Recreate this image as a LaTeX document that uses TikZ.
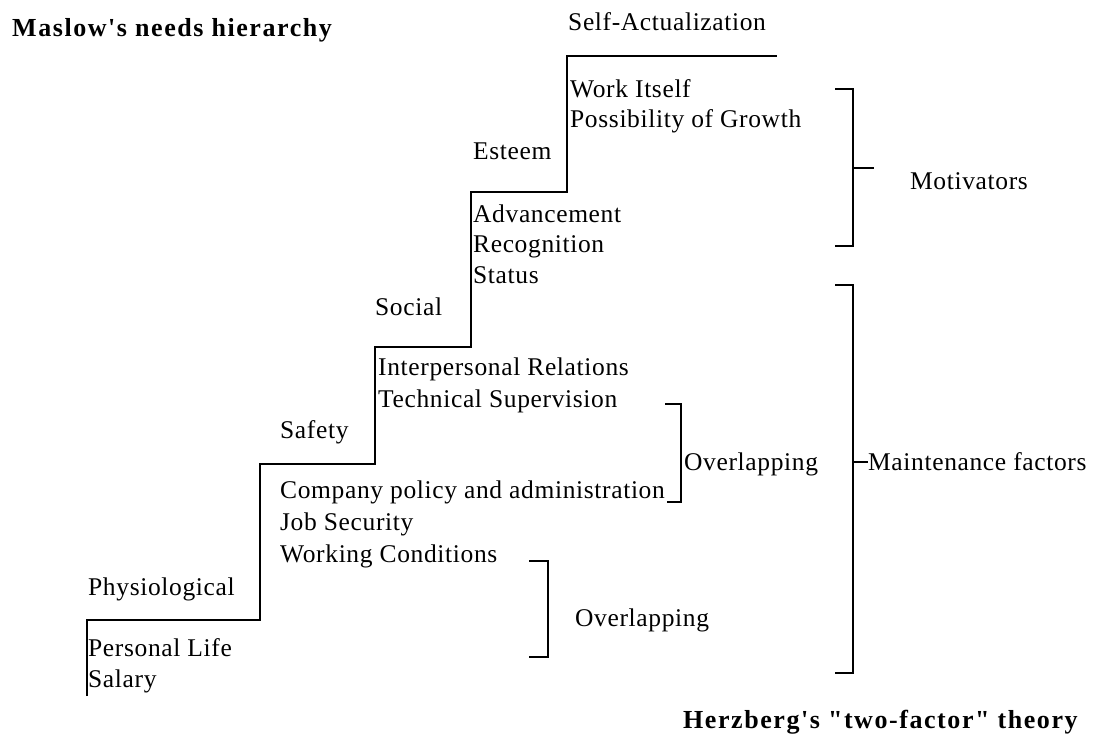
\documentclass[tikz,border=0pt]{standalone}
\usepackage{fontspec}
\setmainfont{Liberation Serif}[LetterSpace=2.5]
\newfontfamily\headfont{Liberation Serif}[LetterSpace=6]
\begin{document}
\begin{tikzpicture}[x=1pt,y=-1pt,
  lbl/.style={inner sep=0pt,anchor=base west,font=\fontsize{25.5}{30}\selectfont},
  head/.style={inner sep=0pt,anchor=base west,font=\headfont\bfseries\fontsize{26}{30}\selectfont},
  stair/.style={line width=1.8pt,line join=miter,line cap=butt},
  brace/.style={line width=1.8pt,line join=miter}]
\useasboundingbox (0,0) rectangle (1115,736);

% staircase of needs
\draw[stair] (87,696) -- (87,620) -- (260,620) -- (260,464) -- (375,464)
  -- (375,347) -- (471,347) -- (471,192) -- (567,192) -- (567,56) -- (777,56);

% titles
\node[head] (maslow) at (12,36) {Maslow's needs hierarchy};
\node[head] (herz) at (683,728) {Herzberg's "two-factor" theory};

% need levels
\node[lbl] (selfact) at (568,30) {Self-Actualization};
\node[lbl] (esteem) at (473,159) {Esteem};
\node[lbl] (social) at (375,315) {Social};
\node[lbl] (safety) at (280,438) {Safety};
\node[lbl] (physio) at (88,595) {Physiological};

% factors on each step
\node[lbl] (work) at (570,97) {Work Itself};
\node[lbl] (growth) at (570,127) {Possibility of Growth};
\node[lbl] (adv) at (473,222) {Advancement};
\node[lbl] (recog) at (473,252) {Recognition};
\node[lbl] (status) at (473,283) {Status};
\node[lbl] (inter) at (378,375) {Interpersonal Relations};
\node[lbl] (tech) at (378,407) {Technical Supervision};
\node[lbl] (policy) at (280,498) {Company policy and administration};
\node[lbl] (jobsec) at (280,530) {Job Security};
\node[lbl] (workcond) at (280,562) {Working Conditions};
\node[lbl] (personal) at (88,656) {Personal Life};
\node[lbl] (salary) at (88,687) {Salary};

% motivators bracket
\draw[brace] (835,89) -- (853,89) -- (853,246) -- (835,246);
\coordinate (motc) at (853,168);
\draw[brace] (motc) -- ++(21,0);
\node[lbl] (motiv) at (910,189) {Motivators};

% maintenance factors bracket
\draw[brace] (835,285) -- (853,285) -- (853,673) -- (835,673);
\coordinate (mainc) at (853,462);
\node[lbl] (maint) at (868,470) {Maintenance factors};
\draw[brace] (mainc) -- (maint.west |- mainc);

% upper overlapping bracket
\draw[brace] (665,404) -- (681,404) -- (681,502) -- (667,502);
\node[lbl] (over1) at (684,470) {Overlapping};

% lower overlapping bracket
\draw[brace] (529,561) -- (548,561) -- (548,657) -- (529,657);
\node[lbl] (over2) at (575,626) {Overlapping};
\end{tikzpicture}
\end{document}
